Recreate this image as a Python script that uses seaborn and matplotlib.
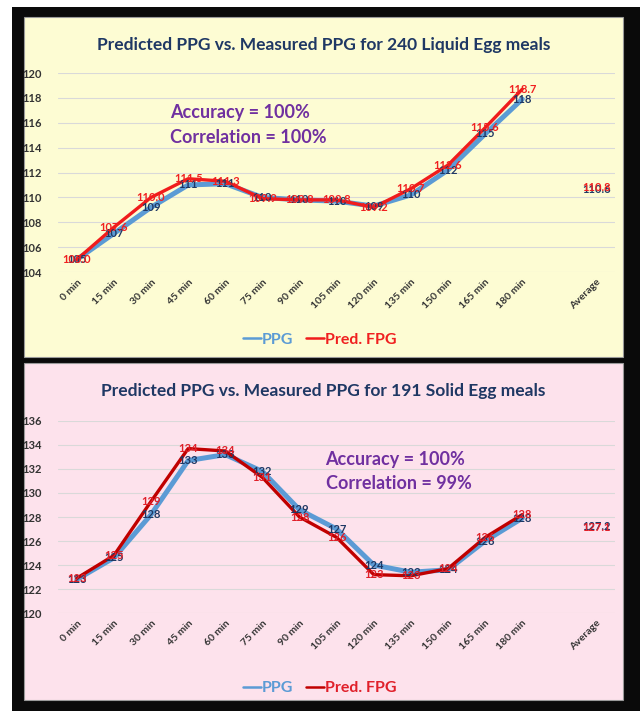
#!/usr/bin/env python3
"""
Predicted vs measured PPG for liquid and solid egg meals (two stacked panels)
"""

import numpy as np
import pandas as pd
import matplotlib
matplotlib.use("Agg")
import matplotlib.pyplot as plt
import seaborn as sns
from matplotlib.patches import Rectangle
from matplotlib.lines import Line2D

# ---- data ----
times = ['0 min', '15 min', '30 min', '45 min', '60 min', '75 min', '90 min',
         '105 min', '120 min', '135 min', '150 min', '165 min', '180 min']
tick_labels = times + ['', 'Average']

liquid_ppg = [105.0, 107.1, 109.2, 111.0, 111.1, 110.0, 109.8, 109.7, 109.3, 110.2, 112.2, 115.1, 117.9]
liquid_pred = [105.0, 107.6, 110.0, 111.5, 111.3, 109.9, 109.8, 109.8, 109.2, 110.7, 112.6, 115.6, 118.7]
liquid_avg_ppg = 110.6
liquid_avg_pred = 110.8

solid_ppg = [122.8, 124.6, 128.2, 132.7, 133.2, 131.8, 128.6, 127.0, 124.0, 123.4, 123.6, 126.0, 127.9]
solid_pred = [122.9, 124.8, 129.3, 133.7, 133.5, 131.3, 128.0, 126.3, 123.2, 123.1, 123.7, 126.3, 128.2]
solid_avg_ppg = 127.2
solid_avg_pred = 127.1

liquid_yticks = [104, 106, 108, 110, 112, 114, 116, 118, 120]
solid_yticks = [120, 122, 124, 126, 128, 130, 132, 134, 136]

panels = [
    dict(title='Predicted PPG vs. Measured PPG for 240 Liquid Egg meals',
         ppg=liquid_ppg, pred=liquid_pred, avg_ppg=liquid_avg_ppg, avg_pred=liquid_avg_pred,
         yticks=liquid_yticks, stats=['Accuracy = 100%', 'Correlation = 100%'],
         bg='#fdfcd3', red='#f01c1c', red_text='#f02020', pred_fmt='{:.1f}',
         rect=[0.091, 0.6174, 0.870, 0.2799], box=(24, 17, 623, 357),
         stats_xy=(0.20, 0.80), legend_y=0.522),
    dict(title='Predicted PPG vs. Measured PPG for 191 Solid Egg meals',
         ppg=solid_ppg, pred=solid_pred, avg_ppg=solid_avg_ppg, avg_pred=solid_avg_pred,
         yticks=solid_yticks, stats=['Accuracy = 100%', 'Correlation = 99%'],
         bg='#fde2ec', red='#c00000', red_text='#e0202a', pred_fmt='{:.0f}',
         rect=[0.091, 0.1378, 0.870, 0.2701], box=(24, 363, 623, 700),
         stats_xy=(0.48, 0.80), legend_y=0.032),
]

W, H = 640, 711
sns.set_theme(style='white')
plt.rcParams['font.family'] = ['Lato', 'DejaVu Sans']
fig = plt.figure(figsize=(W / 100, H / 100), dpi=100)
fig.patch.set_facecolor('white')

# black frame behind the two panels
fig.patches.append(Rectangle((12 / W, 0), 1 - 12 / W, 1 - 7 / H, transform=fig.transFigure,
                             facecolor='#0a0a0a', edgecolor='none', zorder=-3))

blue = '#5b9bd5'
navy = '#1f3864'
x_pos = np.arange(len(times))
avg_pos = tick_labels.index('Average')

for p in panels:
    x0, y0, x1, y1 = p['box']
    fig.patches.append(Rectangle((x0 / W, 1 - y1 / H), (x1 - x0) / W, (y1 - y0) / H,
                                 transform=fig.transFigure, facecolor=p['bg'],
                                 edgecolor='#9a9a9a', linewidth=0.8, zorder=-2))

    ax = fig.add_axes(p['rect'])
    ax.set_facecolor('none')
    ax.set_zorder(1)

    df = pd.DataFrame({'x': np.concatenate([x_pos, x_pos]),
                       'y': p['ppg'] + p['pred'],
                       'series': ['PPG'] * len(times) + ['Pred. FPG'] * len(times)})
    sns.lineplot(data=df[df.series == 'PPG'], x='x', y='y', ax=ax, color=blue,
                 linewidth=3.6, legend=False)
    sns.lineplot(data=df[df.series == 'Pred. FPG'], x='x', y='y', ax=ax, color=p['red'],
                 linewidth=2.4, legend=False)

    # data labels
    for i, v in enumerate(p['ppg']):
        ax.text(i, v, '{:.0f}'.format(v), color=navy, fontsize=8, fontweight='bold',
                ha='center', va='center', zorder=5)
    for i, v in enumerate(p['pred']):
        ax.text(i, v, p['pred_fmt'].format(v), color=p['red_text'], fontsize=8,
                fontweight='bold', ha='center', va='center', zorder=6)
    ax.text(avg_pos, p['avg_ppg'], '{:.1f}'.format(p['avg_ppg']), color=navy, fontsize=8,
            fontweight='bold', ha='center', va='center', zorder=5)
    ax.text(avg_pos, p['avg_pred'], '{:.1f}'.format(p['avg_pred']), color=p['red_text'],
            fontsize=8, fontweight='bold', ha='center', va='center', zorder=6)

    ax.set_xlim(-0.5, len(tick_labels) - 0.5)
    ax.set_ylim(p['yticks'][0], p['yticks'][-1])
    ax.set_yticks(p['yticks'])
    ax.set_yticklabels([str(t) for t in p['yticks']], fontsize=8, fontweight='bold', color='#333333')
    ax.set_xticks(np.arange(len(tick_labels)))
    ax.set_xticklabels(tick_labels, rotation=45, ha='right', rotation_mode='anchor',
                       fontsize=7.5, fontweight='bold', color='#333333')
    ax.tick_params(axis='both', length=0, pad=4)
    ax.tick_params(axis='y', pad=12)
    ax.grid(axis='y', color='#d9d9d9', linewidth=0.8)
    ax.grid(axis='x', visible=False)
    for s in ax.spines.values():
        s.set_visible(False)
    ax.set_xlabel('')
    ax.set_ylabel('')

    # title
    fig.text((x0 + x1) / 2 / W, 1 - (y0 + 28) / H, p['title'], ha='center', va='center',
             fontsize=12.5, fontweight='bold', color=navy)

    # accuracy / correlation
    sx, sy = p['stats_xy']
    ax.text(sx, sy, p['stats'][0], transform=ax.transAxes, fontsize=13, fontweight='bold',
            color='#7030a0', va='center', ha='left')
    ax.text(sx, sy - 0.125, p['stats'][1], transform=ax.transAxes, fontsize=13, fontweight='bold',
            color='#7030a0', va='center', ha='left')

    # legend
    handles = [Line2D([], [], color=blue, lw=1.8), Line2D([], [], color=p['red'], lw=1.8)]
    leg = fig.legend(handles, ['PPG', 'Pred. FPG'], loc='center', ncol=2,
                     bbox_to_anchor=(0.5, p['legend_y']), frameon=False,
                     handlelength=1.1, handletextpad=0.1, columnspacing=0.8,
                     prop={'size': 11.5, 'weight': 'bold'})
    for txt, col in zip(leg.get_texts(), [blue, p['red_text']]):
        txt.set_color(col)

fig.savefig('out.png', dpi=100)
